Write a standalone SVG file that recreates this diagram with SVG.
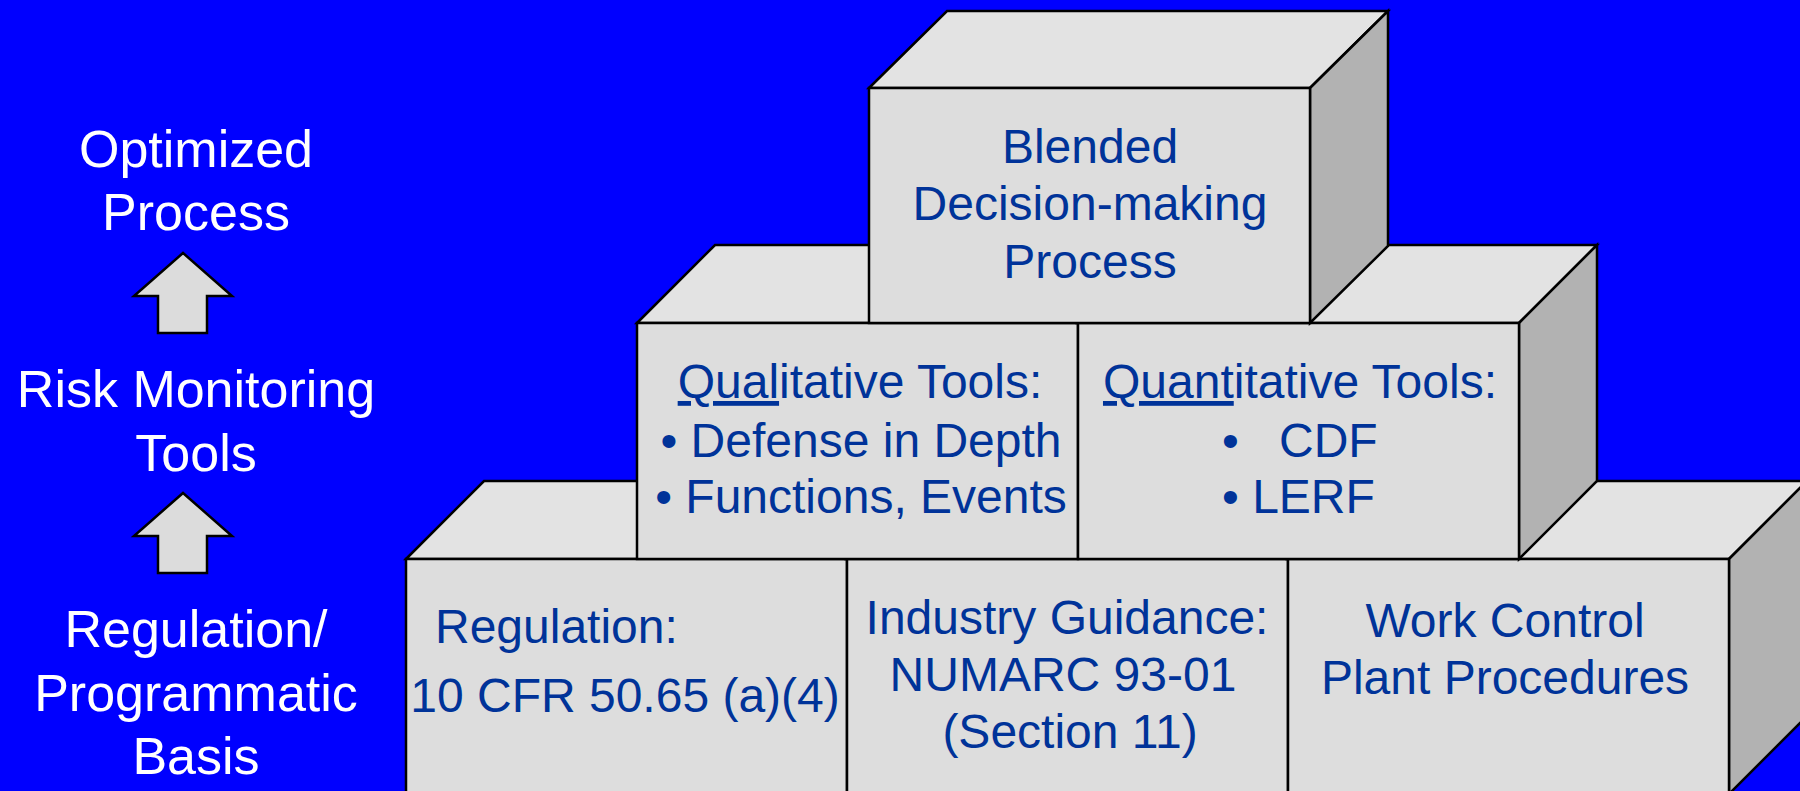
<svg xmlns="http://www.w3.org/2000/svg" width="1800" height="791" viewBox="0 0 1800 791">
<style>
.front{fill:#dddddd;stroke:#000;stroke-width:2.5;stroke-linejoin:miter}
.top{fill:#e3e3e3;stroke:#000;stroke-width:2.5;stroke-linejoin:miter}
.side{fill:#b2b2b2;stroke:#000;stroke-width:2.5;stroke-linejoin:miter}
.arrow{fill:#dcdcdc;stroke:#000;stroke-width:2.5}
.lbl{font-family:"Liberation Sans",Arial,sans-serif;font-size:52px;fill:#ffffff;text-anchor:middle}
.bt{font-family:"Liberation Sans",Arial,sans-serif;font-size:48px;fill:#003399}
.mid{text-anchor:middle}
.u{text-decoration:underline}
</style>
<rect x="0" y="0" width="1800" height="791" fill="#0000ff"/>

<g id="left-labels">
<text class="lbl" x="196" y="167">Optimized</text>
<text class="lbl" x="196" y="230">Process</text>
<text class="lbl" x="196" y="407">Risk Monitoring</text>
<text class="lbl" x="196" y="471">Tools</text>
<text class="lbl" x="196" y="647">Regulation/</text>
<text class="lbl" x="196" y="711">Programmatic</text>
<text class="lbl" x="196" y="774">Basis</text>
</g>

<g id="connectors">
<polygon class="arrow" points="183,253 232,296 207,296 207,333 158,333 158,296 134,296"/>
<polygon class="arrow" points="183,493 232,536 207,536 207,573 158,573 158,536 134,536"/>
</g>

<g id="box-regulation">
<polygon class="top" points="406,559 484,481 925,481 847,559"/>
<rect class="front" x="406" y="559" width="441" height="240"/>
<text class="bt" x="435" y="643">Regulation:</text>
<text class="bt mid" x="625" y="712">10 CFR 50.65 (a)(4)</text>
</g>

<g id="box-industry">
<polygon class="top" points="847,559 925,481 1366,481 1288,559"/>
<rect class="front" x="847" y="559" width="441" height="240"/>
<text class="bt mid" x="1067" y="634">Industry Guidance:</text>
<text class="bt mid" x="1063" y="691">NUMARC 93-01</text>
<text class="bt mid" x="1070" y="748">(Section 11)</text>
</g>

<g id="box-workcontrol">
<polygon class="top" points="1288,559 1366,481 1807,481 1729,559"/>
<polygon class="side" points="1729,559 1807,481 1807,716 1729,794"/>
<rect class="front" x="1288" y="559" width="441" height="240"/>
<text class="bt mid" x="1505" y="637">Work Control</text>
<text class="bt mid" x="1505" y="694">Plant Procedures</text>
</g>

<g id="box-qualitative">
<polygon class="top" points="637,323 715,245 1156,245 1078,323"/>
<rect class="front" x="637" y="323" width="441" height="236"/>
<text class="bt mid" x="860" y="398"><tspan class="u">Qual</tspan>itative Tools:</text>
<text class="bt mid" x="861" y="457">• Defense in Depth</text>
<text class="bt mid" x="861" y="513">• Functions, Events</text>
</g>

<g id="box-quantitative">
<polygon class="top" points="1078,323 1156,245 1597,245 1519,323"/>
<polygon class="side" points="1519,323 1597,245 1597,481 1519,559"/>
<rect class="front" x="1078" y="323" width="441" height="236"/>
<text class="bt mid" x="1300" y="398"><tspan class="u">Quant</tspan>itative Tools:</text>
<text class="bt" y="457"><tspan x="1222">•</tspan><tspan x="1279">CDF</tspan></text>
<text class="bt" x="1222" y="513">• LERF</text>
</g>

<g id="box-blended">
<polygon class="top" points="869,88 947,11 1388,11 1310,88"/>
<polygon class="side" points="1310,88 1388,11 1388,246 1310,323"/>
<rect class="front" x="869" y="88" width="441" height="235"/>
<text class="bt mid" x="1090" y="163">Blended</text>
<text class="bt mid" x="1090" y="220">Decision-making</text>
<text class="bt mid" x="1090" y="278">Process</text>
</g>
</svg>
